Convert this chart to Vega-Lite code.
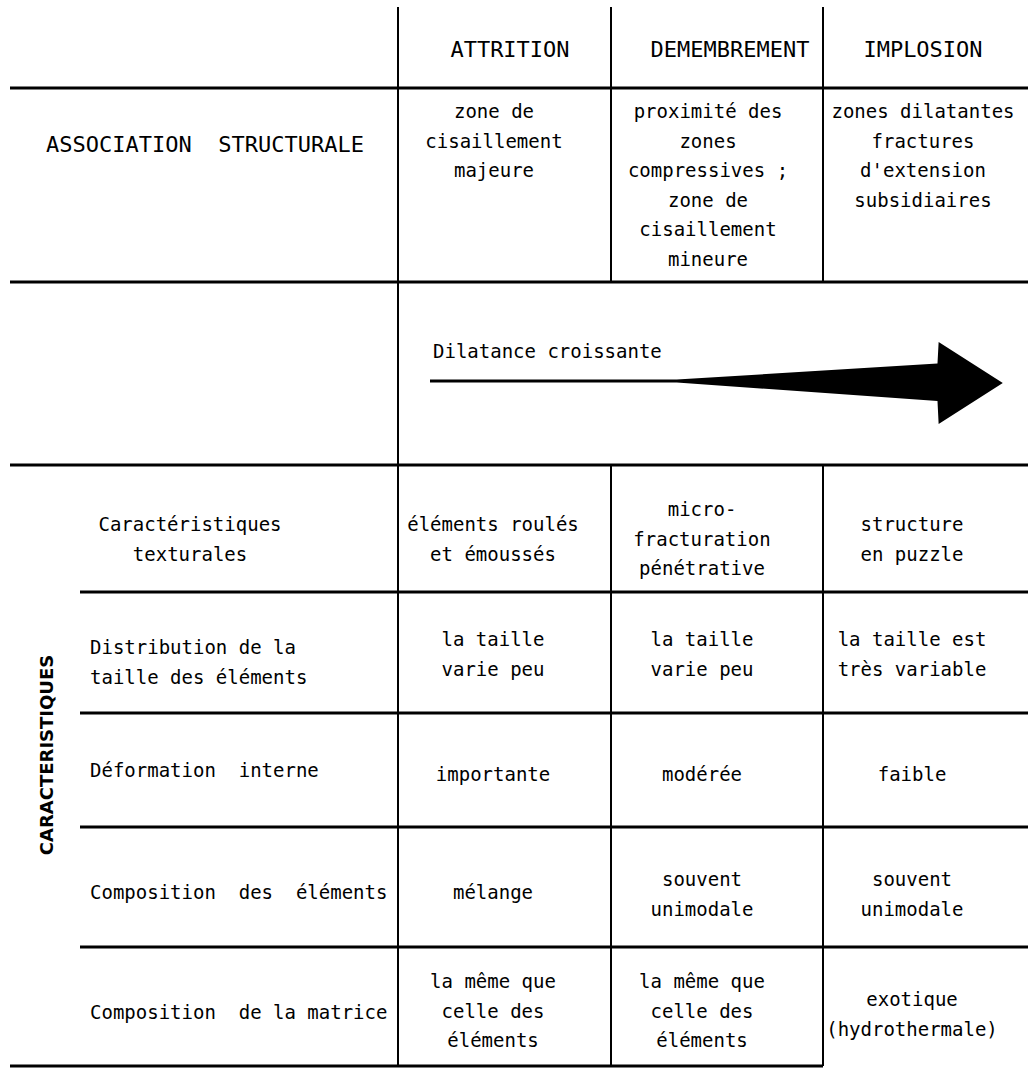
{
  "$schema": "https://vega.github.io/schema/vega-lite/v6.json",
  "width": 1028,
  "height": 1068,
  "padding": 0,
  "autosize": {"type": "fit", "contains": "padding"},
  "background": "white",
  "config": {"view": {"stroke": null}},
  "datasets": {
    "hlines": [
      {"r": 1, "c1": 0, "c2": 5},
      {"r": 2, "c1": 0, "c2": 5},
      {"r": 3, "c1": 0, "c2": 5},
      {"r": 4, "c1": 1, "c2": 5},
      {"r": 5, "c1": 1, "c2": 5},
      {"r": 6, "c1": 1, "c2": 5},
      {"r": 7, "c1": 1, "c2": 5},
      {"r": 8, "c1": 0, "c2": 4}
    ],
    "vlines": [
      {"c": 2, "r1": 0, "r2": 8},
      {"c": 3, "r1": 0, "r2": 2},
      {"c": 3, "r1": 3, "r2": 8},
      {"c": 4, "r1": 0, "r2": 2},
      {"c": 4, "r1": 3, "r2": 8}
    ],
    "arrow": [
      {"ax": 0, "ay": -5.5, "ay2": -2.5},
      {"ax": 42.7, "ay": -5.5, "ay2": -2.5},
      {"ax": 87.8, "ay": -21.5, "ay2": 16},
      {"ax": 88, "ay": -43, "ay2": 39},
      {"ax": 99.1, "ay": -2, "ay2": -2}
    ],
    "header": [
      {"col": 2, "row": 0, "text": "ATTRITION"},
      {"col": 3, "row": 0, "text": "DEMEMBREMENT"},
      {"col": 4, "row": 0, "text": "IMPLOSION"},
      {"col": 1, "row": 1, "text": "ASSOCIATION\u00a0\u00a0STRUCTURALE"}
    ],
    "assoc": [
      {"col": 2, "row": 1, "text": "zone de\ncisaillement\nmajeure"},
      {"col": 3, "row": 1, "text": "proximité des\nzones\ncompressives ;\nzone de\ncisaillement\nmineure"},
      {"col": 4, "row": 1, "text": "zones dilatantes\nfractures\nd'extension\nsubsidiaires"}
    ],
    "cells1": [
      {"col": 2, "row": 5, "text": "importante"},
      {"col": 3, "row": 5, "text": "modérée"},
      {"col": 4, "row": 5, "text": "faible"},
      {"col": 2, "row": 6, "text": "mélange"}
    ],
    "cells2": [
      {"col": 1, "row": 3, "text": "Caractéristiques\ntexturales"},
      {"col": 2, "row": 3, "text": "éléments roulés\net émoussés"},
      {"col": 4, "row": 3, "text": "structure\nen puzzle"},
      {"col": 2, "row": 4, "text": "la taille\nvarie peu"},
      {"col": 3, "row": 4, "text": "la taille\nvarie peu"},
      {"col": 4, "row": 4, "text": "la taille est\ntrès variable"},
      {"col": 3, "row": 6, "text": "souvent\nunimodale"},
      {"col": 4, "row": 6, "text": "souvent\nunimodale"},
      {"col": 4, "row": 7, "text": "exotique\n(hydrothermale)"}
    ],
    "cells3": [
      {"col": 3, "row": 3, "text": "micro-\nfracturation\npénétrative"},
      {"col": 2, "row": 7, "text": "la même que\ncelle des\néléments"},
      {"col": 3, "row": 7, "text": "la même que\ncelle des\néléments"}
    ],
    "labels": [
      {"col": 2, "row": 2, "text": "Dilatance croissante"},
      {"col": 1, "row": 4, "text": "Distribution de la\n\u00a0taille des éléments"},
      {"col": 1, "row": 5, "text": "Déformation\u00a0\u00a0interne"},
      {"col": 1, "row": 6, "text": "Composition\u00a0\u00a0des\u00a0\u00a0éléments"},
      {"col": 1, "row": 7, "text": "Composition\u00a0\u00a0de la matrice"}
    ],
    "side": [
      {"col": 0, "row": 5, "text": "CARACTERISTIQUES"}
    ]
  },
  "resolve": {"scale": {"x": "independent", "y": "independent"}},
  "layer": [
    {
      "data": {"name": "hlines"},
      "mark": {"type": "rule", "color": "black", "strokeWidth": 3},
      "encoding": {
        "x": {"field": "c1", "type": "quantitative", "axis": null,
              "scale": {"domain": [0, 1, 2, 3, 4, 5], "range": [10, 80, 398, 611, 823, 1028], "nice": false, "zero": false}},
        "x2": {"field": "c2"},
        "y": {"field": "r", "type": "quantitative", "axis": null,
              "scale": {"domain": [0, 1, 2, 3, 4, 5, 6, 7, 8], "range": [7, 88, 282, 465, 592, 713, 827, 947, 1066], "nice": false, "zero": false}}
      }
    },
    {
      "data": {"name": "vlines"},
      "mark": {"type": "rule", "color": "black", "strokeWidth": 2},
      "encoding": {
        "x": {"field": "c", "type": "quantitative", "axis": null,
              "scale": {"domain": [0, 1, 2, 3, 4, 5], "range": [10, 80, 398, 611, 823, 1028], "nice": false, "zero": false}},
        "y": {"field": "r1", "type": "quantitative", "axis": null,
              "scale": {"domain": [0, 1, 2, 3, 4, 5, 6, 7, 8], "range": [7, 88, 282, 465, 592, 713, 827, 947, 1066], "nice": false, "zero": false}},
        "y2": {"field": "r2"}
      }
    },
    {
      "data": {"name": "arrow"},
      "mark": {"type": "area", "color": "black", "fillOpacity": 1},
      "encoding": {
        "x": {"field": "ax", "type": "quantitative", "axis": null,
              "scale": {"domain": [0, 100], "range": [430, 1008], "nice": false, "zero": false}},
        "y": {"field": "ay", "type": "quantitative", "axis": null,
              "scale": {"domain": [-50, 50], "range": [335, 435], "nice": false, "zero": false}},
        "y2": {"field": "ay2"}
      }
    },
    {
      "data": {"name": "header"},
      "mark": {"type": "text", "font": "DejaVu Sans Mono", "fontSize": 22, "align": "center", "baseline": "middle", "color": "black"},
      "encoding": {
        "x": {"field": "col", "type": "quantitative", "axis": null,
              "scale": {"domain": [1, 2, 3, 4], "range": [205, 510, 730, 923], "nice": false, "zero": false}},
        "y": {"field": "row", "type": "quantitative", "axis": null,
              "scale": {"domain": [0, 1], "range": [50, 145], "nice": false, "zero": false}},
        "text": {"field": "text", "type": "nominal"}
      }
    },
    {
      "data": {"name": "assoc"},
      "mark": {"type": "text", "font": "DejaVu Sans Mono", "fontSize": 19, "align": "center", "baseline": "middle", "lineBreak": "\n", "lineHeight": 29.5, "color": "black"},
      "encoding": {
        "x": {"field": "col", "type": "quantitative", "axis": null,
              "scale": {"domain": [2, 3, 4], "range": [494, 708, 923], "nice": false, "zero": false}},
        "y": {"field": "row", "type": "quantitative", "axis": null,
              "scale": {"domain": [0, 1], "range": [0, 112], "nice": false, "zero": false}},
        "text": {"field": "text", "type": "nominal"}
      }
    },
    {
      "data": {"name": "cells1"},
      "mark": {"type": "text", "font": "DejaVu Sans Mono", "fontSize": 19, "align": "center", "baseline": "middle", "lineBreak": "\n", "lineHeight": 29.5, "color": "black"},
      "encoding": {
        "x": {"field": "col", "type": "quantitative", "axis": null,
              "scale": {"domain": [2, 3, 4], "range": [493, 702, 912], "nice": false, "zero": false}},
        "y": {"field": "row", "type": "quantitative", "axis": null,
              "scale": {"domain": [5, 6], "range": [775, 893], "nice": false, "zero": false}},
        "text": {"field": "text", "type": "nominal"}
      }
    },
    {
      "data": {"name": "cells2"},
      "mark": {"type": "text", "font": "DejaVu Sans Mono", "fontSize": 19, "align": "center", "baseline": "middle", "lineBreak": "\n", "lineHeight": 29.5, "color": "black"},
      "encoding": {
        "x": {"field": "col", "type": "quantitative", "axis": null,
              "scale": {"domain": [1, 2, 3, 4], "range": [190, 493, 702, 912], "nice": false, "zero": false}},
        "y": {"field": "row", "type": "quantitative", "axis": null,
              "scale": {"domain": [3, 4, 6, 7], "range": [525, 640, 880, 1000], "nice": false, "zero": false}},
        "text": {"field": "text", "type": "nominal"}
      }
    },
    {
      "data": {"name": "cells3"},
      "mark": {"type": "text", "font": "DejaVu Sans Mono", "fontSize": 19, "align": "center", "baseline": "middle", "lineBreak": "\n", "lineHeight": 29.5, "color": "black"},
      "encoding": {
        "x": {"field": "col", "type": "quantitative", "axis": null,
              "scale": {"domain": [2, 3], "range": [493, 702], "nice": false, "zero": false}},
        "y": {"field": "row", "type": "quantitative", "axis": null,
              "scale": {"domain": [3, 7], "range": [510, 982], "nice": false, "zero": false}},
        "text": {"field": "text", "type": "nominal"}
      }
    },
    {
      "data": {"name": "labels"},
      "mark": {"type": "text", "font": "DejaVu Sans Mono", "fontSize": 19, "align": "left", "baseline": "middle", "lineBreak": "\n", "lineHeight": 29.5, "color": "black"},
      "encoding": {
        "x": {"field": "col", "type": "quantitative", "axis": null,
              "scale": {"domain": [1, 2], "range": [90, 433], "nice": false, "zero": false}},
        "y": {"field": "row", "type": "quantitative", "axis": null,
              "scale": {"domain": [2, 4, 5, 6, 7], "range": [352, 648, 771, 893, 1013], "nice": false, "zero": false}},
        "text": {"field": "text", "type": "nominal"}
      }
    },
    {
      "data": {"name": "side"},
      "mark": {"type": "text", "font": "DejaVu Sans", "fontWeight": "bold", "fontSize": 18, "angle": 270, "align": "center", "baseline": "middle", "color": "black"},
      "encoding": {
        "x": {"field": "col", "type": "quantitative", "axis": null,
              "scale": {"domain": [0, 1], "range": [48, 90], "nice": false, "zero": false}},
        "y": {"field": "row", "type": "quantitative", "axis": null,
              "scale": {"domain": [5, 6], "range": [755, 800], "nice": false, "zero": false}},
        "text": {"field": "text", "type": "nominal"}
      }
    }
  ]
}
